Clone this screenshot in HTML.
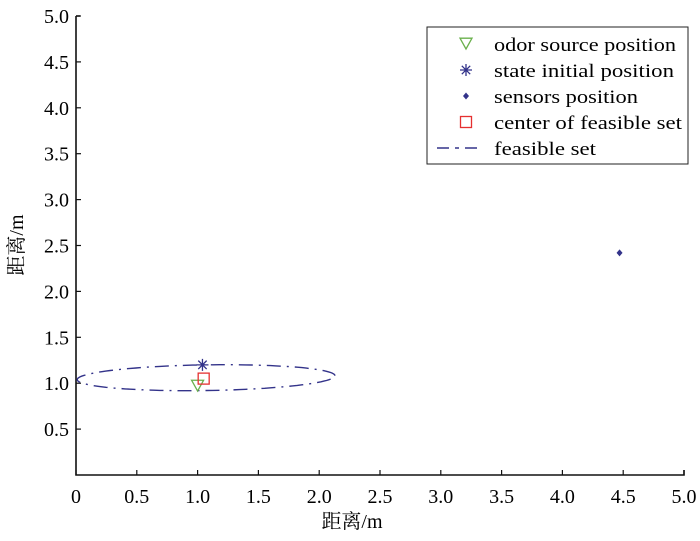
<!DOCTYPE html>
<html><head><meta charset="utf-8"><style>
body{margin:0;background:#fff;}
svg text{font-family:"Liberation Serif","Noto Serif CJK SC",serif;fill:#000;}
</style></head><body>
<svg id="chart" width="700" height="536" xmlns="http://www.w3.org/2000/svg">
</svg>
<script>
const xTicks=[0,0.5,1.0,1.5,2.0,2.5,3.0,3.5,4.0,4.5,5.0];
const yTicks=[0.5,1.0,1.5,2.0,2.5,3.0,3.5,4.0,4.5,5.0];
const odorSource=[1.0,0.98];
const stateInitial=[1.04,1.2];
const sensors=[[4.47,2.42]];
const feasibleCenter=[1.05,1.05];
const ellipseCenter=[1.07,1.06];
const ellipseRadii=[1.06,0.14];
const ellipseTilt=[0.002];
const legendLabels=["odor source position","state initial position","sensors position","center of feasible set","feasible set"];
const legendWidths=[182,180,144,188,102];

const svg=document.getElementById('chart');
const NS='http://www.w3.org/2000/svg';
const X0=76,X1=684,Y0=475,Y1=16;
const sx=v=>X0+(X1-X0)*v/5;
const sy=v=>Y0-(Y0-Y1)*v/5;
function mk(tag,attrs,parent){const e=document.createElementNS(NS,tag);for(const k in attrs)e.setAttribute(k,attrs[k]);(parent||svg).appendChild(e);return e;}

let ax=mk('path',{d:`M${X0} ${Y1}H${X0+4}M${X0} ${Y1}V${Y0}H${X1}V${Y0-5}`,stroke:'#111','stroke-width':1.6,fill:'none'});


xTicks.forEach(t=>{
  let l=mk('line',{x1:sx(t),x2:sx(t),y1:Y0,y2:Y0-5,stroke:'#111','stroke-width':1.2});
  
  
  let tx=mk('text',{x:sx(t),y:Y0+28,'text-anchor':'middle','font-size':20});
  tx.textContent=t.toFixed(t===0?0:1);
  
  
});
yTicks.forEach(t=>{
  let l=mk('line',{x1:X0,x2:X0+5,y1:sy(t),y2:sy(t),stroke:'#111','stroke-width':1.2});
  
  
  let tx=mk('text',{x:X0-7,y:sy(t)+7,'text-anchor':'end','font-size':20});
  tx.textContent=t.toFixed(1);
  
  
});
let xl=mk('text',{x:352,y:528,'text-anchor':'middle','font-size':20});
xl.textContent='距离/m';


let yl=mk('text',{x:0,y:0,'text-anchor':'middle','font-size':20,transform:'translate(23,245) rotate(-90)'});
yl.textContent='距离/m';



let pts=[];
for(let i=0;i<=120;i++){const a=i/120*2*Math.PI;const dx=ellipseRadii[0]*Math.cos(a),dy=ellipseRadii[1]*Math.sin(a);
 const x=ellipseCenter[0]+dx, y=ellipseCenter[1]+dy+ellipseTilt[0]*dx*10;
 pts.push(sx(x).toFixed(1)+','+sy(y).toFixed(1));}
let el=mk('polyline',{points:pts.join(' '),fill:'none',stroke:'#33338a','stroke-width':1.4,'stroke-dasharray':'14 6 2 6'});



function tri(cx,cy,s,name){let p=mk('path',{d:`M${cx-s} ${cy-s*0.8}H${cx+s}L${cx} ${cy+s}Z`,fill:'none',stroke:'#6ab04c','stroke-width':1.3});}
function star(cx,cy,s,name){let p=mk('path',{d:`M${cx-s} ${cy}H${cx+s}M${cx} ${cy-s}V${cy+s}M${cx-s*.7} ${cy-s*.7}L${cx+s*.7} ${cy+s*.7}M${cx-s*.7} ${cy+s*.7}L${cx+s*.7} ${cy-s*.7}`,stroke:'#33338a','stroke-width':1.3});}
function dot(cx,cy,name){let p=mk('path',{d:`M${cx} ${cy-3.5}L${cx+3} ${cy}L${cx} ${cy+3.5}L${cx-3} ${cy}Z`,fill:'#33338a'});}
function sq(cx,cy,s,name){let p=mk('rect',{x:cx-s,y:cy-s,width:2*s,height:2*s,fill:'none',stroke:'#e53030','stroke-width':1.3});}

tri(sx(odorSource[0]),sy(odorSource[1]),6,'odor-source-marker');
star(sx(stateInitial[0]),sy(stateInitial[1]),6,'state-initial-marker');
sensors.forEach(s=>dot(sx(s[0]),sy(s[1]),'sensor-marker'));
sq(sx(feasibleCenter[0]),sy(feasibleCenter[1]),5.5,'feasible-center-marker');

let lg=mk('rect',{x:427,y:27,width:261,height:137,fill:'#fff',stroke:'#222','stroke-width':1});


const ly=[44,70,96,122,148];
tri(466,ly[0]-1,6,'legend-odor-marker');
star(466,ly[1],6,'legend-state-marker');
dot(466,ly[2],'legend-sensor-marker');
sq(466,ly[3],5.5,'legend-center-marker');
let ll=mk('line',{x1:437,x2:483,y1:ly[4],y2:ly[4],stroke:'#33338a','stroke-width':1.4,'stroke-dasharray':'12 6 4 6'});


legendLabels.forEach((t,i)=>{
  let tx=mk('text',{x:494,y:ly[i]+7,'font-size':19,textLength:legendWidths[i],lengthAdjust:'spacingAndGlyphs'});
  tx.textContent=t;
  
  
});
</script>
</body></html>
